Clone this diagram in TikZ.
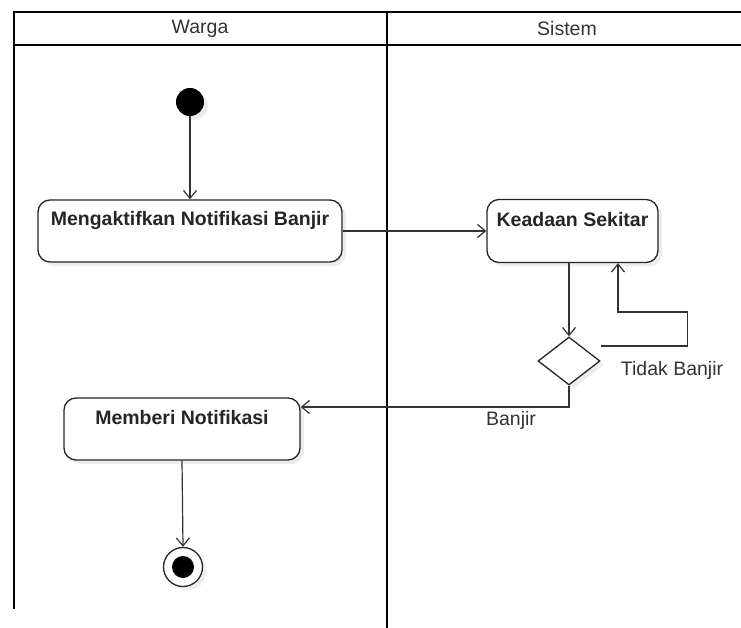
\documentclass[tikz,border=0pt]{standalone}
\usepackage{fontspec}
\setmainfont{Liberation Sans}
\usetikzlibrary{arrows.meta,shapes.geometric,shadows}

\tikzset{
  lane/.style={line width=2.6pt,black},
  soft/.style={drop shadow={shadow xshift=4pt,shadow yshift=-4pt,fill=black,opacity=0.07}},
  actbox/.style={draw=black!85,line width=1.3pt,rounded corners=12pt,fill=white,soft,
    inner xsep=0pt,inner ysep=0pt,align=center,
    font=\fontsize{19.5}{23}\selectfont\bfseries,text=black!85},
  flow/.style={draw=black!80,line width=1.2pt,-{Straight Barb[length=8pt,width=13pt,line width=1.2pt]}},
  plain/.style={draw=black!80,line width=1.2pt},
  lbl/.style={font=\fontsize{19.5}{23}\selectfont,text=black!80,inner sep=0pt},
  hdr/.style={font=\fontsize{19.5}{23}\selectfont,text=black!80,inner sep=0pt},
}

\begin{document}
\begin{tikzpicture}[x=1pt,y=-1pt]
\useasboundingbox (0,0) rectangle (741,628);

% swimlane frame
\draw[lane] (14,12) -- (741,12);
\draw[lane] (14,45) -- (741,45);
\draw[lane] (14,11) -- (14,609);
\draw[lane] (387,11) -- (387,628);
\node[hdr] (hwarga) at (200,29) {Warga};
\node[hdr] (hsistem) at (567,29) {Sistem};

% start and end
\node[circle,fill=black,minimum size=28pt,inner sep=0pt,soft] (start) at (190,102) {};
\node[circle,draw=black!85,line width=1.3pt,fill=white,minimum size=39pt,inner sep=0pt,soft] (end) at (183,567) {};
\node[circle,fill=black,minimum size=22pt,inner sep=0pt] (enddot) at (end.center) {};

% activities
\node[actbox,minimum width=304pt,text height=20pt,text depth=30pt,inner ysep=6pt] (aktif) at (190,231) {Mengaktifkan Notifikasi Banjir};
\node[actbox,minimum width=171pt,text height=20pt,text depth=29pt,inner ysep=7pt] (keadaan) at (572.5,231) {Keadaan Sekitar};
\node[actbox,minimum width=236pt,text height=20pt,text depth=30pt,inner ysep=6pt] (beri) at (182,429) {Memberi Notifikasi};

% decision
\node[diamond,draw=black!85,line width=1.3pt,fill=white,minimum width=62pt,minimum height=48pt,inner sep=0pt,soft] (dia) at (569,361) {};

% connectors
\draw[flow] (start) -- (aktif.north);
\draw[flow] (aktif.east) -- (keadaan.west);
\draw[flow] (keadaan.south -| dia.north) -- (dia.north);
\draw[flow] ([yshift=15pt]dia.east) -- ++(87,0) -- ++(0,-34) -| ([xshift=45.5pt]keadaan.south);
\draw[flow] (dia.south) |- ([yshift=22pt]beri.east);
\draw[flow] (beri.south) -- (end.north);

% guard labels
\node[lbl] (ltidak) at (672,370) {Tidak Banjir};
\node[lbl] (lbanjir) at (511,420) {Banjir};
\end{tikzpicture}
\end{document}
